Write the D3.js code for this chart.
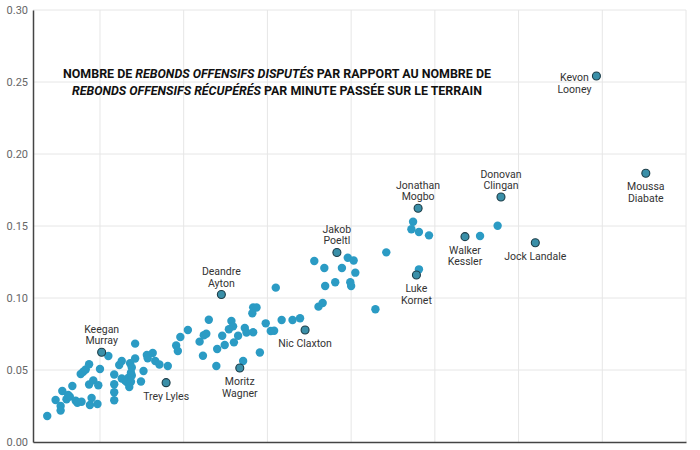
<!DOCTYPE html>
<html>
<head>
<meta charset="utf-8">
<title>Rebonds offensifs</title>
<script src="https://d3js.org/d3.v7.min.js"></script>
<style>
  body { margin: 0; background: #fff; }
  #chart { width: 700px; height: 450px; overflow: hidden; }
  text { font-family: Roboto, "Noto Sans", sans-serif; }
</style>
</head>
<body>
<div id="chart"></div>
<script>
// x: rebonds offensifs disputés par minute, y: récupérés par minute
var xTicks = [0.1, 0.2, 0.3, 0.4, 0.5, 0.6, 0.7, 0.8];
var yTicks = [0, 0.05, 0.10, 0.15, 0.20, 0.25, 0.30];

var otherX = [0.037, 0.047, 0.053, 0.053, 0.055, 0.060, 0.062, 0.064, 0.067, 0.071,
  0.073, 0.078, 0.077, 0.080, 0.083, 0.087, 0.087, 0.092, 0.090, 0.088,
  0.097, 0.098, 0.100, 0.110, 0.117, 0.117, 0.117, 0.117, 0.123, 0.126,
  0.126, 0.130, 0.134, 0.132, 0.137, 0.138, 0.135, 0.136, 0.137, 0.138,
  0.142, 0.142, 0.149, 0.152, 0.156, 0.157, 0.163, 0.166, 0.171, 0.181,
  0.191, 0.193, 0.196, 0.205, 0.219, 0.224, 0.227, 0.223, 0.230, 0.239,
  0.240, 0.246, 0.249, 0.257, 0.259, 0.254, 0.260, 0.265, 0.271, 0.273,
  0.275, 0.283, 0.283, 0.287, 0.282, 0.291, 0.298, 0.304, 0.308, 0.310,
  0.317, 0.330, 0.339, 0.356, 0.361, 0.366, 0.368, 0.369, 0.381, 0.389,
  0.396, 0.403, 0.405, 0.399, 0.400, 0.429, 0.442, 0.474, 0.472, 0.481,
  0.493, 0.481, 0.554, 0.575];
var otherY = [0.0181, 0.0292, 0.0250, 0.0219, 0.0354, 0.0297, 0.0326, 0.0315, 0.0389, 0.0287,
  0.0273, 0.0280, 0.0472, 0.0488, 0.0503, 0.0540, 0.0399, 0.0428, 0.0306, 0.0257,
  0.0264, 0.0394, 0.0507, 0.0597, 0.0469, 0.0401, 0.0345, 0.0290, 0.0535, 0.0563,
  0.0441, 0.0427, 0.0447, 0.0417, 0.0419, 0.0462, 0.0382, 0.0547, 0.0481, 0.0517,
  0.0683, 0.0580, 0.0420, 0.0493, 0.0604, 0.0581, 0.0618, 0.0563, 0.0538, 0.0528,
  0.0670, 0.0632, 0.0729, 0.0778, 0.0697, 0.0741, 0.0752, 0.0599, 0.0849, 0.0528,
  0.0646, 0.0738, 0.0674, 0.0840, 0.0803, 0.0783, 0.0692, 0.0738, 0.0563, 0.0792,
  0.0760, 0.0762, 0.0935, 0.0934, 0.0894, 0.0622, 0.0824, 0.0771, 0.0773, 0.1072,
  0.0847, 0.0847, 0.0859, 0.1257, 0.0940, 0.0965, 0.1208, 0.1083, 0.1109, 0.1208,
  0.1280, 0.1260, 0.1176, 0.1109, 0.1083, 0.0922, 0.1317, 0.1530, 0.1477, 0.1458,
  0.1435, 0.1199, 0.1431, 0.1502];

var players = ["Keegan Murray", "Trey Lyles", "Deandre Ayton", "Moritz Wagner", "Nic Claxton",
  "Jakob Poeltl", "Jonathan Mogbo", "Luke Kornet", "Walker Kessler", "Donovan Clingan",
  "Jock Landale", "Kevon Looney", "Moussa Diabate"];
var playerX = [0.102, 0.179, 0.245, 0.267, 0.345, 0.383, 0.480, 0.478, 0.536, 0.579, 0.620, 0.693, 0.752];
var playerY = [0.0623, 0.0412, 0.1024, 0.0514, 0.0778, 0.1316, 0.1623, 0.1160, 0.1426, 0.1701, 0.1384, 0.2542, 0.1866];

// where each name sits relative to its dot
var place = {
  "Keegan Murray": "above", "Trey Lyles": "below1", "Deandre Ayton": "above",
  "Moritz Wagner": "below", "Nic Claxton": "below1", "Jakob Poeltl": "above",
  "Jonathan Mogbo": "above", "Luke Kornet": "below", "Walker Kessler": "below",
  "Donovan Clingan": "above", "Jock Landale": "below1", "Kevon Looney": "left",
  "Moussa Diabate": "below"
};

var width = 700, height = 450;
var svg = d3.select("#chart").append("svg")
  .attr("width", width).attr("height", height);

var x = d3.scaleLinear().domain([0.02, 0.8]).range([33, 686]);
var y = d3.scaleLinear().domain([0, 0.3]).range([442, 10]);

// grid
svg.append("g").selectAll("line").data(yTicks.slice(1)).join("line")
  .attr("x1", x.range()[0]).attr("x2", x.range()[1])
  .attr("y1", function(d) { return y(d); }).attr("y2", function(d) { return y(d); })
  .attr("stroke", "#e6e6e6").attr("stroke-width", 1);
svg.append("g").selectAll("line").data(xTicks).join("line")
  .attr("x1", function(d) { return x(d); }).attr("x2", function(d) { return x(d); })
  .attr("y1", y(0.3)).attr("y2", y(0))
  .attr("stroke", "#e6e6e6").attr("stroke-width", 1);

// axes
var yAxis = d3.axisLeft(y).tickValues(yTicks).tickFormat(d3.format(".2f")).tickSize(0).tickPadding(5);
var gy = svg.append("g").attr("transform", "translate(33,0)").call(yAxis);
gy.select(".domain").attr("stroke", "#444").attr("stroke-width", 1.5);
gy.selectAll("text").attr("fill", "#666").style("font-size", "11px").attr("dy", "0.32em");

var xAxis = d3.axisBottom(x).tickValues(xTicks).tickFormat(d3.format(".2f")).tickSize(0).tickPadding(8);
var gx = svg.append("g").attr("transform", "translate(0,442)").call(xAxis);
gx.select(".domain").attr("stroke", "#444").attr("stroke-width", 1.5);
gx.selectAll("text").attr("fill", "#666").style("font-size", "11px");

// other players
var others = d3.range(otherX.length).map(function(i) { return {x: otherX[i], y: otherY[i]}; });
svg.append("g").selectAll("circle").data(others).join("circle")
  .attr("cx", function(d) { return x(d.x); })
  .attr("cy", function(d) { return y(d.y); })
  .attr("r", 4.2)
  .attr("fill", "#2b9bc4");

// named players
var named = players.map(function(n, i) { return {name: n, x: playerX[i], y: playerY[i]}; });
svg.append("g").selectAll("circle").data(named).join("circle")
  .attr("cx", function(d) { return x(d.x); })
  .attr("cy", function(d) { return y(d.y); })
  .attr("r", 4)
  .attr("fill", "#3a8fa8")
  .attr("stroke", "#1d3d48")
  .attr("stroke-width", 1.1);

var labels = svg.append("g").selectAll("text").data(named).join("text")
  .attr("text-anchor", "middle")
  .attr("fill", "#333")
  .style("font-size", "10.5px");

labels.each(function(d) {
  var t = d3.select(this);
  var px = x(d.x), py = y(d.y);
  var p = place[d.name];
  var parts = d.name.split(" ");
  var lines, x0 = px, y0;
  if (p === "above") { lines = parts; y0 = py - 8; }
  else if (p === "below") { lines = parts; y0 = py + 17; }
  else if (p === "below1") { lines = [d.name]; y0 = py + 17.5; }
  else { lines = parts; x0 = px - 22; y0 = py + 5; }
  if (p === "above") {
    t.selectAll("tspan").data(lines).join("tspan")
      .attr("x", x0)
      .attr("y", function(s, i) { return y0 - (lines.length - 1 - i) * 11.3; })
      .text(function(s) { return s; });
  } else {
    t.selectAll("tspan").data(lines).join("tspan")
      .attr("x", x0)
      .attr("y", function(s, i) { return y0 + i * 11.6; })
      .text(function(s) { return s; });
  }
});

// title
var title = [
  [["NOMBRE DE ", false], ["REBONDS OFFENSIFS DISPUTÉS", true], [" PAR RAPPORT AU NOMBRE DE", false]],
  [["REBONDS OFFENSIFS RÉCUPÉRÉS", true], [" PAR MINUTE PASSÉE SUR LE TERRAIN", false]]
];
var titleW = [428, 410];
title.forEach(function(line, i) {
  var t = svg.append("text")
    .attr("x", 277).attr("y", 78 + i * 17)
    .attr("text-anchor", "middle")
    .attr("fill", "#111")
    .style("font-size", "12.5px")
    .style("font-weight", 700)
    .attr("textLength", titleW[i])
    .attr("lengthAdjust", "spacingAndGlyphs");
  t.selectAll("tspan").data(line).join("tspan")
    .style("font-style", function(d) { return d[1] ? "italic" : "normal"; })
    .text(function(d) { return d[0]; });
});
</script>
</body>
</html>
